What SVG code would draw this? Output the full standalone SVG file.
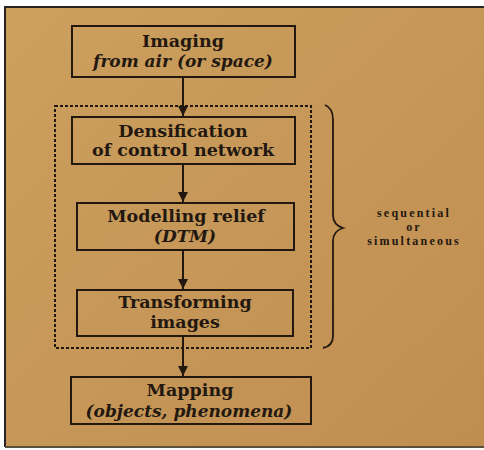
<svg xmlns="http://www.w3.org/2000/svg" width="484" height="450" viewBox="0 0 484 450">
<defs>
<linearGradient id="bg" x1="0" y1="0" x2="1" y2="1">
<stop offset="0" stop-color="#cca05e"/>
<stop offset="0.5" stop-color="#c69758"/>
<stop offset="1" stop-color="#c08d50"/>
</linearGradient>
<marker id="ah" viewBox="0 0 10 10" refX="10" refY="5" markerWidth="10" markerHeight="10" markerUnits="userSpaceOnUse" orient="auto">
<path d="M0,0 L10,5 L0,10 z" fill="#231810"/>
</marker>
<style>
.box{fill:none;stroke:#231810;stroke-width:2}
.t{font-family:"DejaVu Serif","Liberation Serif",serif;fill:#231810;text-anchor:middle}
.b{font-weight:bold;font-size:17.5px}
.i{font-style:italic;font-weight:bold;font-size:17px}
.c{stroke:#231810;stroke-width:2;fill:none}
.s{font-family:"Liberation Serif",serif;font-weight:bold;font-size:12px;letter-spacing:2.2px;fill:#231810;text-anchor:middle}
</style>
</defs>
<rect x="0" y="0" width="484" height="450" fill="#ffffff"/>
<rect x="5" y="7" width="479" height="440" fill="url(#bg)"/>
<path d="M5,447 L5,7 L484,7" fill="none" stroke="#2a2420" stroke-width="2"/>
<line x1="5" y1="447" x2="484" y2="447" stroke="#5a5040" stroke-width="2"/>
<g id="group">
<rect x="55" y="106" width="256" height="242" fill="none" stroke="#231810" stroke-width="2" stroke-dasharray="3,2"/>
</g>
<g id="connectors">
<line class="c" x1="183" y1="77" x2="183" y2="116" marker-end="url(#ah)"/>
<line class="c" x1="183" y1="164" x2="183" y2="202" marker-end="url(#ah)"/>
<line class="c" x1="183" y1="250" x2="183" y2="289" marker-end="url(#ah)"/>
<line class="c" x1="183" y1="336" x2="183" y2="376" marker-end="url(#ah)"/>
</g>
<g id="imaging">
<rect class="box" x="72" y="26" width="223" height="51"/>
<text class="t b" x="183" y="47">Imaging</text>
<text class="t i" x="183" y="67">from air (or space)</text>
</g>
<g id="densification">
<rect class="box" x="72" y="117" width="223" height="47"/>
<text class="t b" x="183" y="137">Densification</text>
<text class="t b" x="183" y="156">of control network</text>
</g>
<g id="modelling">
<rect class="box" x="77" y="203" width="217" height="47"/>
<text class="t b" x="186" y="222">Modelling relief</text>
<text class="t i" x="185" y="242">(DTM)</text>
</g>
<g id="transforming">
<rect class="box" x="77" y="290" width="216" height="46"/>
<text class="t b" x="185" y="308">Transforming</text>
<text class="t b" x="185" y="328">images</text>
</g>
<g id="mapping">
<rect class="box" x="71" y="377" width="240" height="47"/>
<text class="t b" x="190" y="396">Mapping</text>
<text class="t i" x="189" y="417">(objects, phenomena)</text>
</g>
<g id="brace">
<path d="M325,105 Q333,108 333,120 L333,215 Q333,225 343,228 Q333,231 333,241 L333,336 Q333,346 323,348" fill="none" stroke="#231810" stroke-width="1.8"/>
<text class="s" x="414" y="217">sequential</text>
<text class="s" x="414" y="231">or</text>
<text class="s" x="414" y="245">simultaneous</text>
</g>
</svg>
